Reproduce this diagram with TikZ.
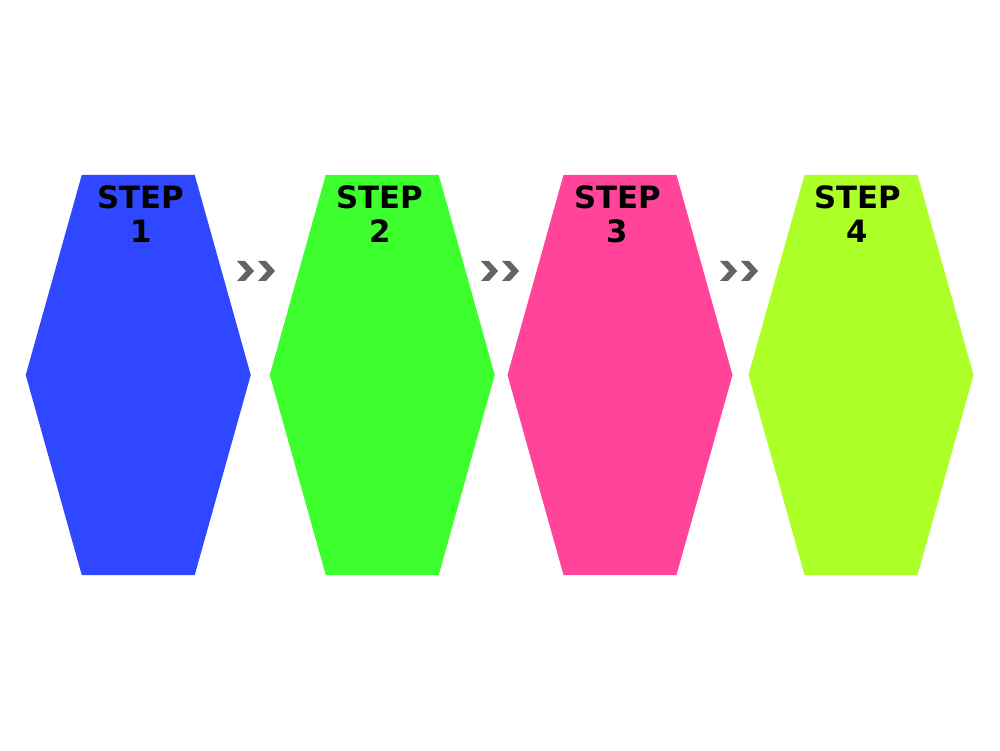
\documentclass[tikz,border=0pt]{standalone}
\usepackage{fontspec}
\newfontfamily\stepfont{DejaVu Sans}
\usetikzlibrary{positioning}
\definecolor{stepblue}{RGB}{46,71,255}
\definecolor{stepgreen}{RGB}{62,255,46}
\definecolor{steppink}{RGB}{255,68,153}
\definecolor{steplime}{RGB}{173,255,40}
\definecolor{arrowgray}{RGB}{100,100,100}
\tikzset{
  steplabel/.style={align=center, anchor=base, inner sep=0pt, font=\stepfont\bfseries\fontsize{17.5}{19.8}\selectfont},
  chev/.pic={
    \fill[arrowgray] (-0.38,0.2) -- (-0.22,0.2) -- (-0.04,0) -- (-0.22,-0.2) -- (-0.38,-0.2) -- (-0.20,0) -- cycle;
    \fill[arrowgray] (0.04,0.2) -- (0.20,0.2) -- (0.38,0) -- (0.20,-0.2) -- (0.04,-0.2) -- (0.22,0) -- cycle;
  }
}
\begin{document}
\begin{tikzpicture}
    \useasboundingbox (0,0) rectangle (20,15);
    % Hexagon centres
    \coordinate (h1) at (2.765,7.5);
    \coordinate (h2) at (7.645,7.5);
    \coordinate (h3) at (12.4,7.5);
    \coordinate (h4) at (17.22,7.5);

    % Hexagons
    \fill[stepblue, shift={(h1)}] (-2.25,0) -- (-1.13,4) -- (1.13,4) -- (2.25,0) -- (1.13,-4) -- (-1.13,-4) -- cycle;
    \fill[stepgreen, shift={(h2)}] (-2.25,0) -- (-1.13,4) -- (1.13,4) -- (2.25,0) -- (1.13,-4) -- (-1.13,-4) -- cycle;
    \fill[steppink, shift={(h3)}] (-2.25,0) -- (-1.13,4) -- (1.13,4) -- (2.25,0) -- (1.13,-4) -- (-1.13,-4) -- cycle;
    \fill[steplime, shift={(h4)}] (-2.25,0) -- (-1.13,4) -- (1.13,4) -- (2.25,0) -- (1.13,-4) -- (-1.13,-4) -- cycle;

    % Labels
    \node[steplabel] (s1) at (2.82,10.14) {STEP\\1};
    \node[steplabel] (s2) at (7.60,10.14) {STEP\\2};
    \node[steplabel] (s3) at (12.35,10.14) {STEP\\3};
    \node[steplabel] (s4) at (17.15,10.14) {STEP\\4};

    % Chevrons between steps
    \pic at (5.12,9.58) {chev};
    \pic at (10.00,9.58) {chev};
    \pic at (14.78,9.58) {chev};
\end{tikzpicture}
\end{document}
